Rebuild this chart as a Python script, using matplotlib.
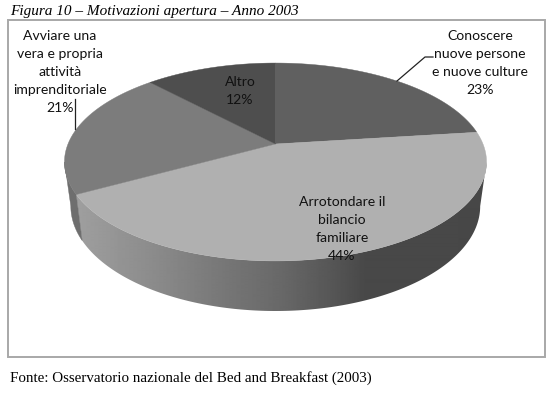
import numpy as np
import matplotlib
matplotlib.use("Agg")
import matplotlib.pyplot as plt
from matplotlib.patches import Rectangle, Polygon

categories = ["Conoscere\nnuove persone\ne nuove culture", "Arrotondare il\nbilancio\nfamiliare",
              "Avviare una\nvera e propria\nattività\nimprenditoriale", "Altro"]
values = [23, 44, 21, 12]
top_colors = ["#606060", "#b0b0b0", "#7c7c7c", "#4e4e4e"]
title = "Figura 10 – Motivazioni apertura – Anno 2003"
source = "Fonte: Osservatorio nazionale del Bed and Breakfast (2003)"

W, H = 557, 396
fig = plt.figure(figsize=(W / 100, H / 100), dpi=100)
ax = fig.add_axes([0, 0, 1, 1])
ax.axis("off")

CX, CY0, PERSP, A, D = 275.5, 144.0, 0.1818, -69.5, 207.5


def top_pt(t):
    """Perspective projection of the unit circle onto the pie's top face."""
    u, v = np.cos(t), np.sin(t)
    den = 1 + PERSP * v
    return CX + D * u / den, (A * v + CY0) / den


def bottom_pt(t):
    x, y = top_pt(t)
    return CX + (x - CX) * 0.97, y + 44 + 6 * (y - 160) / 100


def wall_outline(t0, t1, n=200):
    ts = np.linspace(t0, t1, n)
    xt, yt = top_pt(ts)
    xb, yb = bottom_pt(ts)
    return np.c_[np.r_[xt, xb[::-1]], np.r_[yt, yb[::-1]]]


ax.add_patch(Rectangle((7.5, 19.5), 537, 337.5, fc="white", ec="#a8a8a8", lw=1.4))

fr = np.cumsum([0] + values) / sum(values)
angles = np.pi / 2 - 2 * np.pi * fr

# side wall of the pie, visible front part only
tl = np.arctan2(-PERSP, -np.sqrt(1 - PERSP**2))      # left silhouette
tr = np.arctan2(-PERSP, np.sqrt(1 - PERSP**2))       # right silhouette

grad_x = np.arange(60, 495)
grad = np.interp(grad_x, [80, 150, 230, 280, 330, 365, 490],
                 [0.62, 0.55, 0.46, 0.41, 0.34, 0.285, 0.28])
im = ax.imshow(grad[None, :], extent=(60, 495, 320, 130), cmap="gray", vmin=0, vmax=1,
               aspect="auto", interpolation="bilinear", zorder=2)
clip = Polygon(wall_outline(angles[2], tr), transform=ax.transData, fc="none", ec="none")
ax.add_patch(clip)
im.set_clip_path(clip)

ax.add_patch(Polygon(wall_outline(tl, angles[2], 40), fc="#6e6e6e", ec="#6e6e6e", lw=0.3, zorder=2))

# top face
for i, c in enumerate(top_colors):
    ts = np.linspace(angles[i], angles[i + 1], 200)
    xs, ys = top_pt(ts)
    ax.fill(np.r_[CX, xs], np.r_[CY0, ys], fc=c, ec=c, lw=0.3, zorder=3)

# leader lines
ax.plot([75, 75], [99, 129], color="#222222", lw=0.9, zorder=4)
ax.plot([397, 425, 433], [81, 57, 57], color="#222222", lw=0.9, zorder=4)

lab = dict(family="Lato", fontsize=10.1, color="#111111", ha="center", va="center",
           linespacing=1.6, zorder=5)
pct = [f"{v}%" for v in values]
ax.text(480, 62.5, f"{categories[0]}\n{pct[0]}", **lab)
ax.text(342, 229.5, f"{categories[1]}\n{pct[1]}", **lab)
ax.text(60, 72, f"{categories[2]}\n{pct[2]}", **lab)
ax.text(240, 90.5, f"{categories[3]}\n{pct[3]}", **lab)

ax.text(10, 11.5, title, family="Liberation Serif", style="italic", fontsize=10.95,
        color="black", ha="left", va="center")
ax.text(10, 378, source, family="Liberation Serif", fontsize=10.85,
        color="black", ha="left", va="center")

ax.set_xlim(0, W)
ax.set_ylim(H, 0)
fig.savefig("out.png", dpi=100)
